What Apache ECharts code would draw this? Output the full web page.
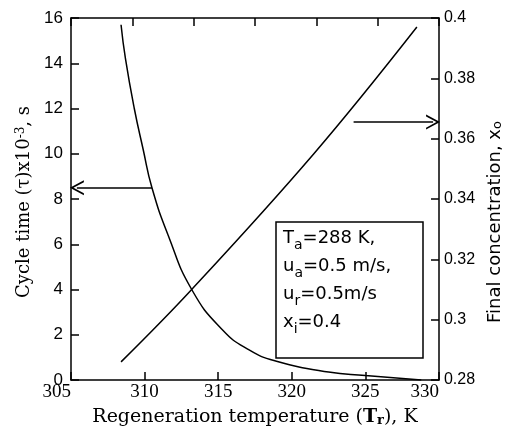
<!DOCTYPE html>
<html>
<head>
<meta charset="UTF-8">
<script src="https://cdn.jsdelivr.net/npm/echarts@6/dist/echarts.min.js"></script>
<style>
body { margin:0; padding:0; background:#fff; }
#chart { width:512px; height:434px; }
</style>
</head>
<body><div id="chart"></div>
<script>
// cycle time curve (left axis, x10^-3 s)
var cycleTemps = [308.4, 308.7, 309.3, 309.9, 310.5, 311.6, 313.2, 315.3, 317.1, 318.9, 322.5, 325.0, 328.8];
var cycleTime  = [15.7, 14.2, 12.0, 10.2, 8.5, 6.4, 4.0, 2.21, 1.33, 0.84, 0.35, 0.2, 0.0];

// final concentration line (right axis)
var concTemps = [308.4, 313.2, 321.5, 328.5];
var concValues = [0.286, 0.310, 0.355, 0.397];

// arrows: [from, to] in data coords
var leftArrow = [[310.5, 8.5], [305.4, 8.5]];
var rightArrow = [[324.2, 0.3655], [329.6, 0.3655]];

var boxLines = [
  '{n|T}{s|a}{n|=288 K,}',
  '{n|u}{s|a}{n|=0.5 m/s,}',
  '{n|u}{s|r}{n|=0.5m/s}',
  '{n|x}{s|i}{n|=0.4}'
];

var chevron = 'path://M0,10 L5,0 L10,10 L8.7,10 L5,2.6 L1.3,10 Z';
var sans = 'Liberation Sans';
var serif = 'Liberation Serif';
var wideSans = 'DejaVu Sans';
var wideSerif = 'DejaVu Serif';

function pairs(xs, ys) {
  return xs.map(function (x, i) { return [x, ys[i]]; });
}

function arrowLine(a) {
  return {
    silent: true,
    symbol: ['none', chevron],
    symbolSize: [15, 14],
    label: { show: false },
    lineStyle: { color: '#000', width: 1.5, type: 'solid' },
    emphasis: { disabled: true },
    data: [[{ coord: a[0] }, { coord: a[1] }]]
  };
}

var axisLine = { show: true, lineStyle: { color: '#000', width: 1.5 } };
var tick = { inside: true, length: 8, lineStyle: { color: '#000', width: 1.5 } };

var chart = echarts.init(document.getElementById('chart'));
chart.setOption({
  animation: false,
  grid: { left: 71, right: 72, top: 18, bottom: 54 },
  xAxis: [{
    type: 'value', min: 305, max: 330, interval: 5,
    axisLine: axisLine, axisTick: tick,
    splitLine: { show: false },
    axisLabel: { color: '#000', fontFamily: serif, fontSize: 19, margin: 3,
      alignMinLabel: 'right', alignMaxLabel: 'right' },
    name: 'Regeneration temperature ({b|T}{sub|r}), K',
    nameLocation: 'middle', nameGap: 28,
    nameTextStyle: { color: '#000', fontFamily: wideSerif, fontSize: 19,
      rich: {
        b: { fontFamily: wideSerif, fontSize: 19, fontWeight: 'bold', color: '#000' },
        sub: { fontFamily: wideSerif, fontSize: 13, fontWeight: 'bold', color: '#000', verticalAlign: 'bottom', lineHeight: 15 }
      } }
  }, {
    type: 'value', min: 0, max: 6, interval: 1, position: 'top',
    axisLine: axisLine, axisTick: tick,
    splitLine: { show: false },
    axisLabel: { show: false }
  }],
  yAxis: [{
    type: 'value', min: 0, max: 16, interval: 2,
    axisLine: axisLine, axisTick: tick,
    splitLine: { show: false },
    axisLabel: { color: '#000', fontFamily: sans, fontSize: 17, margin: 8 },
    name: '{a|Cycle time (τ)x10}{sup|-3}{a|, s}',
    nameLocation: 'middle', nameGap: 38, nameRotate: 90,
    nameTextStyle: { color: '#000', padding: [0, 6, 0, 0],
      rich: {
        a: { fontFamily: wideSerif, fontSize: 18, color: '#000' },
        sup: { fontFamily: wideSerif, fontSize: 12, color: '#000', verticalAlign: 'top', lineHeight: 12 }
      } }
  }, {
    type: 'value', min: 0.28, max: 0.4, interval: 0.02, position: 'right',
    axisLine: axisLine, axisTick: tick,
    splitLine: { show: false },
    axisLabel: { color: '#000', fontFamily: sans, fontSize: 16, margin: 5 },
    name: '{a|Final concentration, x}{sub|o}',
    nameLocation: 'middle', nameGap: 46, nameRotate: 90,
    nameTextStyle: { color: '#000', padding: [0, 46, 0, 0],
      rich: {
        a: { fontFamily: wideSans, fontSize: 18, color: '#000' },
        sub: { fontFamily: wideSans, fontSize: 13, color: '#000', verticalAlign: 'bottom', lineHeight: 14 }
      } }
  }],
  series: [{
    type: 'line', xAxisIndex: 0, yAxisIndex: 0,
    data: pairs(cycleTemps, cycleTime),
    smooth: 0.5, showSymbol: false, silent: true,
    lineStyle: { color: '#000', width: 1.5 },
    markLine: arrowLine(leftArrow)
  }, {
    type: 'line', xAxisIndex: 0, yAxisIndex: 1,
    data: pairs(concTemps, concValues),
    smooth: 0.4, showSymbol: false, silent: true,
    lineStyle: { color: '#000', width: 1.5 },
    markLine: arrowLine(rightArrow)
  }],
  graphic: [{
    type: 'rect', z: 10,
    shape: { x: 276, y: 222, width: 147, height: 136 },
    style: { fill: '#fff', stroke: '#000', lineWidth: 1.5 }
  }, {
    type: 'text', z: 11, left: 283, top: 229,
    style: {
      text: boxLines.join('\n'),
      fill: '#000',
      rich: {
        n: { fontFamily: wideSans, fontSize: 18, lineHeight: 28, color: '#000' },
        s: { fontFamily: wideSans, fontSize: 14, lineHeight: 18, verticalAlign: 'bottom', color: '#000' }
      }
    }
  }]
});
</script>
</body></html>
